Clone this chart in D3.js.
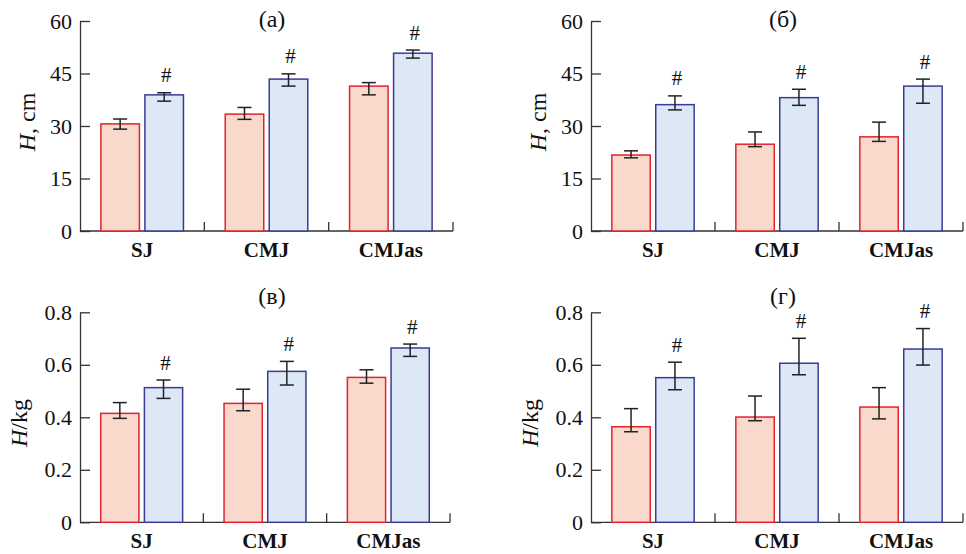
<!DOCTYPE html>
<html>
<head>
<meta charset="utf-8">
<script src="https://cdn.jsdelivr.net/npm/d3@7"></script>
</head>
<body style="margin:0;background:#fff">
<script>
// categories and series
const categories = ['SJ', 'CMJ', 'CMJas'];
const series = ['pre', 'post'];
const titles = ['(а)', '(б)', '(в)', '(г)'];

// each entry: [bar value, error low, error high]
const aPre  = [[30.6, 29.1, 32.0], [33.4, 31.9, 35.3], [41.4, 38.9, 42.4]];
const aPost = [[38.9, 37.1, 39.5], [43.4, 41.4, 44.9], [50.8, 49.4, 51.7]];
const bPre  = [[21.7, 20.9, 22.9], [24.8, 24.1, 28.3], [26.9, 25.6, 31.1]];
const bPost = [[36.1, 34.6, 38.6], [38.1, 35.9, 40.5], [41.4, 36.5, 43.4]];
const vPre  = [[0.415, 0.396, 0.456], [0.453, 0.425, 0.507], [0.552, 0.530, 0.581]];
const vPost = [[0.513, 0.472, 0.542], [0.575, 0.523, 0.613], [0.664, 0.632, 0.679]];
const gPre  = [[0.364, 0.345, 0.433], [0.401, 0.387, 0.481], [0.439, 0.394, 0.513]];
const gPost = [[0.551, 0.505, 0.610], [0.606, 0.562, 0.701], [0.660, 0.599, 0.738]];

const cmTicks = [0, 15, 30, 45, 60];
const kgTicks = [0, 0.2, 0.4, 0.6, 0.8];

var fills = {pre: '#f9d9cb', post: '#dde8f7'};
var strokes = {pre: '#e2222f', post: '#3b3b96'};
var serif = '"Liberation Serif", serif';

var svg = d3.select('body')
  .append('svg')
  .attr('width', 966)
  .attr('height', 554)
  .style('font-family', serif);

var draw = function(p){
  var x = d3.scaleBand()
    .domain(categories)
    .range(p.xr);
  var bw = x.bandwidth();
  var x1 = d3.scaleBand()
    .domain(series)
    .range([bw * 0.168, bw * 0.832])
    .paddingInner(0.125);
  var y = d3.scaleLinear()
    .domain([0, p.max])
    .range(p.yr);

  var g = svg.append('g');

  // y axis, ticks pointing inward
  var yAxis = g.append('g')
    .attr('transform', 'translate(' + p.xr[0] + ',0)')
    .call(d3.axisLeft(y)
      .tickValues(p.ticks)
      .tickSizeInner(-10)
      .tickSizeOuter(0)
      .tickPadding(8)
      .tickFormat(p.fmt))
    .attr('font-family', null)
    .attr('font-size', null);
  yAxis.selectAll('text')
    .style('font-family', serif)
    .style('font-size', '22px')
    .attr('fill', '#111');
  yAxis.selectAll('line, path').attr('stroke', '#333').attr('stroke-width', 1.3);

  // x axis line
  g.append('line')
    .attr('x1', p.xr[0]).attr('x2', p.xr[1])
    .attr('y1', y(0)).attr('y2', y(0))
    .attr('stroke', '#333').attr('stroke-width', 1.3);

  // category boundary ticks
  g.selectAll('.xtick')
    .data(categories)
    .enter()
    .append('line')
    .attr('x1', d => x(d) + bw).attr('x2', d => x(d) + bw)
    .attr('y1', y(0)).attr('y2', y(0) - 9)
    .attr('stroke', '#333').attr('stroke-width', 1.3);

  g.selectAll('.xlab')
    .data(categories)
    .enter()
    .append('text')
    .attr('x', d => x(d) + bw / 2)
    .attr('y', y(0) + 26)
    .attr('text-anchor', 'middle')
    .style('font-family', serif)
    .style('font-size', '21px')
    .style('font-weight', 'bold')
    .attr('fill', '#111')
    .text(d => d);

  // bars
  var rows = [];
  categories.forEach(function(c, i){
    rows.push({cat: c, s: 'pre', v: p.pre[i]});
    rows.push({cat: c, s: 'post', v: p.post[i]});
  });

  g.selectAll('.bar')
    .data(rows)
    .enter()
    .append('rect')
    .attr('x', d => x(d.cat) + x1(d.s))
    .attr('y', d => y(d.v[0]))
    .attr('width', x1.bandwidth())
    .attr('height', d => y(0) - y(d.v[0]))
    .attr('fill', d => fills[d.s])
    .attr('stroke', d => strokes[d.s])
    .attr('stroke-width', 1.5);

  // error bars
  var eb = g.selectAll('.err')
    .data(rows)
    .enter()
    .append('g')
    .attr('transform', d => 'translate(' + (x(d.cat) + x1(d.s) + x1.bandwidth() / 2) + ',0)');
  eb.append('line')
    .attr('y1', d => y(d.v[1])).attr('y2', d => y(d.v[2]))
    .attr('stroke', '#222').attr('stroke-width', 1.5);
  eb.append('line')
    .attr('x1', -7).attr('x2', 7)
    .attr('y1', d => y(d.v[1])).attr('y2', d => y(d.v[1]))
    .attr('stroke', '#222').attr('stroke-width', 1.5);
  eb.append('line')
    .attr('x1', -7).attr('x2', 7)
    .attr('y1', d => y(d.v[2])).attr('y2', d => y(d.v[2]))
    .attr('stroke', '#222').attr('stroke-width', 1.5);

  // significance marks over the second bar
  g.selectAll('.hash')
    .data(rows.filter(d => d.s === 'post'))
    .enter()
    .append('text')
    .attr('x', d => x(d.cat) + x1(d.s) + x1.bandwidth() / 2 + 2)
    .attr('y', d => y(d.v[2]) - 10.5)
    .attr('text-anchor', 'middle')
    .style('font-family', serif)
    .style('font-size', '21px')
    .attr('fill', '#111')
    .text('#');

  // panel title
  g.append('text')
    .attr('x', p.xr[0] + 192)
    .attr('y', p.yr[1] + p.titleDy)
    .attr('text-anchor', 'middle')
    .style('font-family', serif)
    .style('font-size', '24px')
    .attr('fill', '#111')
    .text(p.title);

  // y label
  var yl = g.append('text')
    .attr('transform', 'translate(' + (p.xr[0] - p.labelDx) + ',' + p.labelCy + ') rotate(-90)')
    .attr('text-anchor', 'middle')
    .style('font-family', serif)
    .style('font-size', '24px')
    .attr('fill', '#111');
  yl.append('tspan').style('font-style', 'italic').text('H');
  yl.append('tspan').text(p.unit);
};

var fmtCm = d => d;
var fmtKg = d => d === 0 ? '0' : d.toFixed(1);

draw({xr: [80, 453], yr: [231, 21], max: 60, ticks: cmTicks, fmt: fmtCm,
      pre: aPre, post: aPost, title: titles[0], titleDy: 6, labelDx: 45, labelCy: 122, unit: ', cm'});
draw({xr: [591, 963], yr: [231, 21], max: 60, ticks: cmTicks, fmt: fmtCm,
      pre: bPre, post: bPost, title: titles[1], titleDy: 6, labelDx: 45, labelCy: 122, unit: ', cm'});
draw({xr: [80, 450], yr: [522.3, 312.3], max: 0.8, ticks: kgTicks, fmt: fmtKg,
      pre: vPre, post: vPost, title: titles[2], titleDy: -8, labelDx: 53, labelCy: 423, unit: '/kg'});
draw({xr: [591, 963], yr: [522.3, 312.3], max: 0.8, ticks: kgTicks, fmt: fmtKg,
      pre: gPre, post: gPost, title: titles[3], titleDy: -8, labelDx: 53, labelCy: 423, unit: '/kg'});
</script>
</body>
</html>
